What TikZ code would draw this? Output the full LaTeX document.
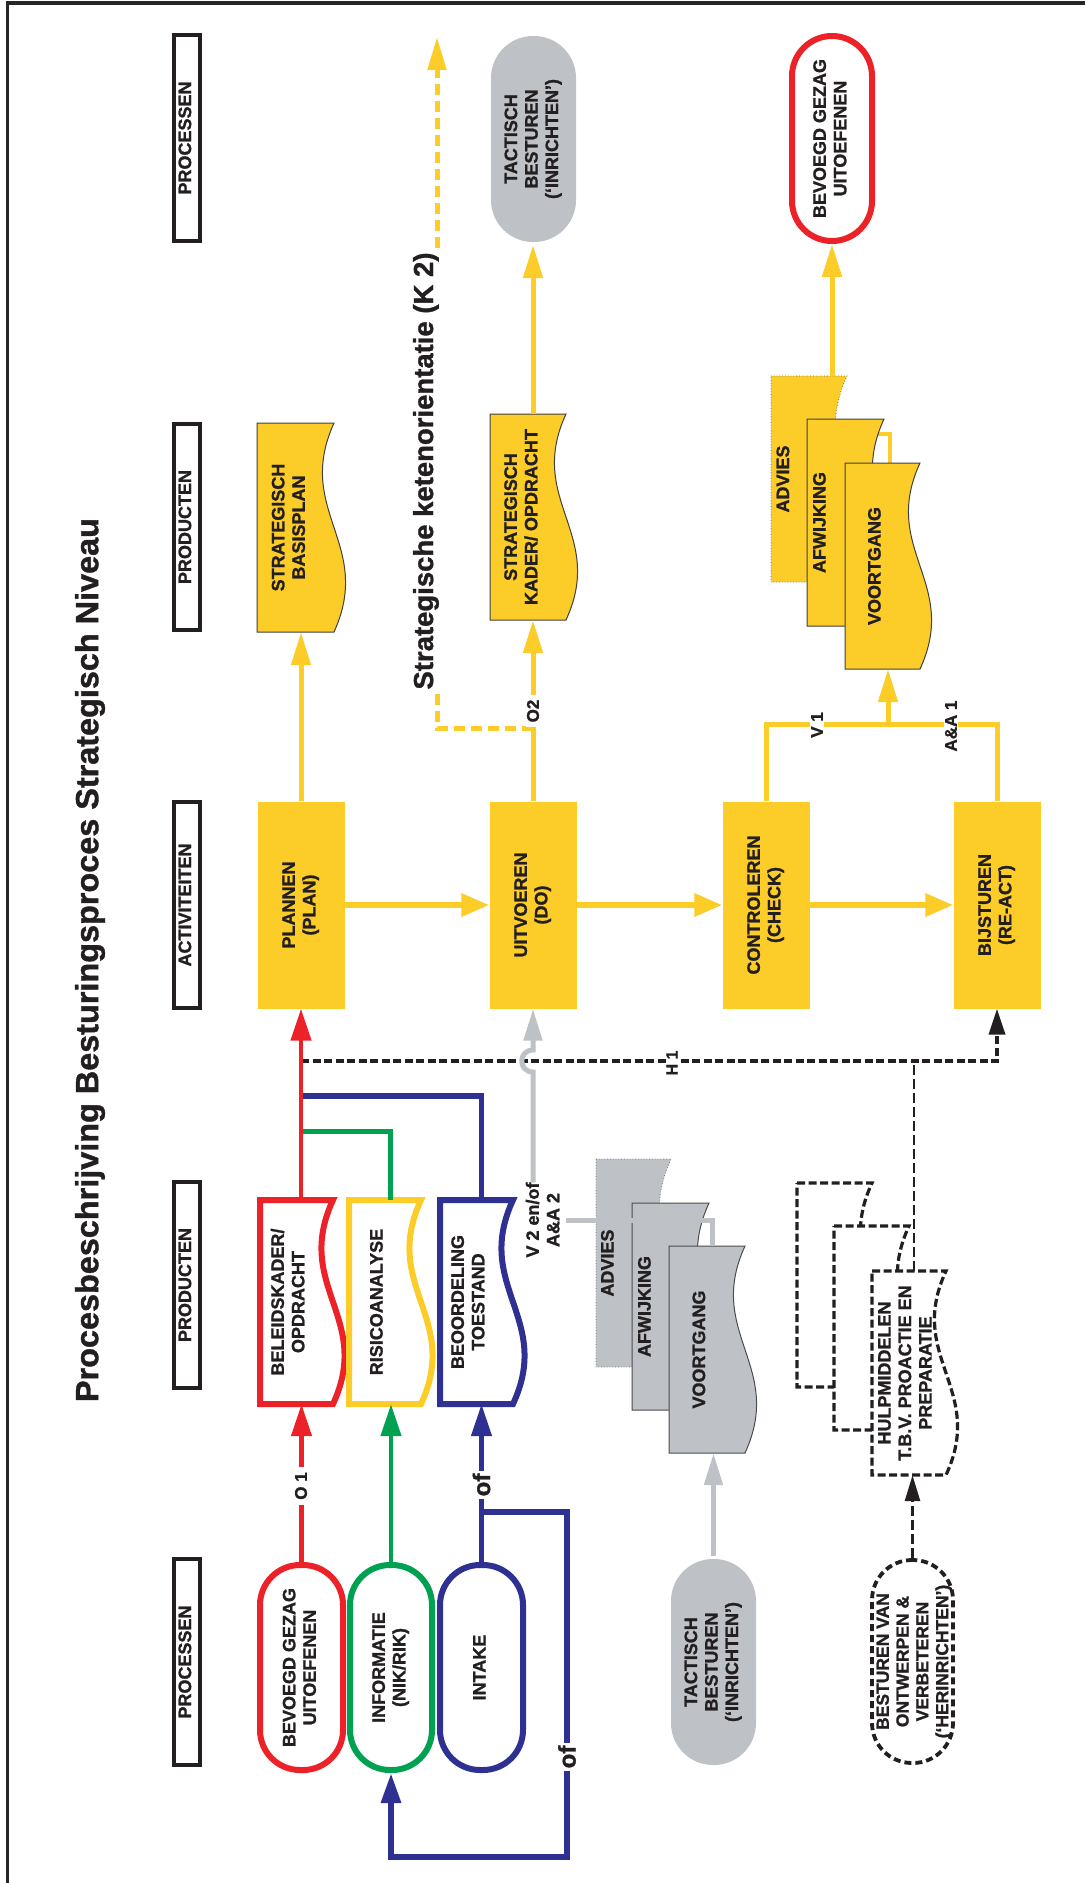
\documentclass[tikz,border=0pt]{standalone}
\usepackage{fontspec}
\setmainfont{Liberation Sans}[BoldFeatures={FakeBold=1.2}]
\usetikzlibrary{arrows.meta,calc}
\definecolor{ygold}{RGB}{252,204,41}
\definecolor{rred}{RGB}{236,34,40}
\definecolor{ggreen}{RGB}{0,161,80}
\definecolor{bblue}{RGB}{46,49,146}
\definecolor{ggray}{RGB}{190,194,199}
\definecolor{inkc}{RGB}{35,31,32}

% text set upright-rotated (reads bottom to top)
\newcommand\rtext[1]{\rotatebox{90}{\begin{tabular}{@{}c@{}}#1\end{tabular}}}

% document shape with a wavy right edge, an invisible named node over it, and its label
% #1 name, #2 style, #3 x0, #4 y0, #5 w, #6 h, #7 label shift, #8 label
\newcommand\docnode[8]{%
  \path[#2] (#3,#4) -- ({#3+#5},#4) .. controls +(-40,{0.42*#6}) and +(40,{-0.42*#6}) .. ({#3+#5},{#4+#6}) -- (#3,{#4+#6}) -- cycle;
  \node[inner sep=0pt, minimum width={#5+10}, minimum height=#6] (#1) at ({#3+(#5+10)/2},{#4+#6/2}) {};
  \node[lbl] at ({#3+(#5+10)/2+#7},{#4+#6/2}) {\rtext{#8}};}

\tikzset{
  lbl/.style={font=\fontsize{18pt}{20.5pt}\selectfont\bfseries, text=inkc, inner sep=0pt},
  smlbl/.style={font=\fontsize{17pt}{19pt}\selectfont\bfseries, text=inkc, fill=white, rotate=90, inner xsep=5pt, inner ysep=1pt},
  hdr/.style={lbl, draw=inkc, line width=4, minimum width=26, minimum height=206},
  act/.style={lbl, fill=ygold, minimum width=87, minimum height=207},
  proc/.style={lbl, rounded corners=40, line width=6, minimum width=82, minimum height=205},
  ydoc/.style={fill=ygold, draw=black!75, line width=1, line join=miter},
  ydocdot/.style={fill=ygold, draw=black!60, line width=0.8, dotted},
  gdoc/.style={fill=ggray, draw=black!70, line width=1, line join=miter},
  gdocdot/.style={fill=ggray, draw=black!55, line width=0.8, dotted},
  wdoc/.style={fill=white, line width=6, line join=miter},
  hdoc/.style={fill=white, draw=inkc, line width=3.2, dash pattern=on 8pt off 3.5pt, line join=miter},
  yline/.style={draw=ygold, line width=5, line join=miter},
  yarr/.style={yline, -{Triangle[length=33pt,width=19pt]}},
  yarrH/.style={draw=ygold, line width=6.5, -{Triangle[length=28pt,width=22pt]}},
  ydash/.style={draw=ygold, line width=5, dash pattern=on 11pt off 6pt},
  rarr/.style={draw=rred, line width=4.5, -{Triangle[length=32pt,width=20pt]}},
  garr/.style={draw=ggreen, line width=4.5, -{Triangle[length=32pt,width=20pt]}},
  barr/.style={draw=bblue, line width=4.5, -{Triangle[length=32pt,width=20pt]}},
  gln/.style={draw=ggreen, line width=5, line join=miter},
  bln/.style={draw=bblue, line width=5.5, line join=miter},
  gyline/.style={draw=ggray, line width=5, line join=miter},
  gyarr/.style={gyline, -{Triangle[length=32pt,width=18pt]}},
  hln/.style={draw=inkc, line width=3.8, dash pattern=on 8pt off 3.5pt, -{Triangle[length=26pt,width=16pt]}},
  hlink/.style={draw=inkc, line width=2.8, dash pattern=on 10pt off 4pt},
}

\begin{document}
\begin{tikzpicture}[x=1pt, y=-1pt]
\useasboundingbox (0,0) rectangle (1085,1883);
\fill[white] (0,0) rectangle (1085,1883);

% frame
\draw[line width=3.5, draw=black!85] (5.75,3) -- (1085,3);
\draw[line width=2.5, draw=black!85] (7.5,3) -- (7.5,1883);

% title
\node[font=\fontsize{32pt}{36pt}\selectfont\bfseries, text=inkc, inner sep=0pt] (title) at (90,960)
  {\rotatebox{90}{\resizebox{884pt}{\height}{Procesbeschrijving Besturingsproces Strategisch Niveau}}};

% column headers
\node[hdr] (h1) at (187,138) {\rtext{PROCESSEN}};
\node[hdr] (h2) at (187,527) {\rtext{PRODUCTEN}};
\node[hdr] (h3) at (187,905) {\rtext{ACTIVITEITEN}};
\node[hdr] (h4) at (187,1285) {\rtext{PRODUCTEN}};
\node[hdr] (h5) at (187,1662) {\rtext{PROCESSEN}};

% activities
\node[act] (plan)  at (301,905) {\rtext{PLANNEN\\(PLAN)}};
\node[act] (uit)   at (533,905) {\rtext{UITVOEREN\\(DO)}};
\node[act] (contr) at (766,905) {\rtext{CONTROLEREN\\(CHECK)}};
\node[act] (bijst) at (997,905) {\rtext{BIJSTUREN\\(RE-ACT)}};
\draw[yarrH] (plan) -- (uit);
\draw[yarrH] (uit) -- (contr);
\draw[yarrH] (contr) -- (bijst);

% processes, top row
\node[proc, draw=rred, fill=white, minimum width=80] (bev1) at (832,138.5) {\rtext{BEVOEGD GEZAG\\UITOEFENEN}};
\node[proc, fill=ggray, rounded corners=42, minimum width=85, minimum height=206] (tact1) at (533.5,139) {\rtext{TACTISCH\\BESTUREN\\(‘INRICHTEN’)}};

% processes, bottom row
\node[proc, draw=rred, fill=white, minimum width=83] (bev2) at (301.5,1667.5) {\rtext{BEVOEGD GEZAG\\UITOEFENEN}};
\node[proc, draw=ggreen, fill=white, minimum width=82] (info) at (391,1667.5) {\rtext{INFORMATIE\\(NIK/RIK)}};
\node[proc, draw=bblue, fill=white, minimum width=83] (intake) at (481.5,1667.5) {\rtext{INTAKE}};
\node[proc, fill=ggray, rounded corners=42, minimum width=85, minimum height=206] (gtact) at (713.5,1662) {\rtext{TACTISCH\\BESTUREN\\(‘INRICHTEN’)}};
\node[proc, draw=inkc, fill=white, line width=3.8, dash pattern=on 7pt off 4pt, minimum width=81, minimum height=203] (bvo) at (912.5,1661.5) {};
\node[lbl, font=\fontsize{17.5pt}{19.8pt}\selectfont\bfseries] at (914.5,1661.5) {\rtext{BESTUREN VAN\\ONTWERPEN \&\\VERBETEREN\\(‘HERINRICHTEN’)}};

% top products
\docnode{basis}{ydoc}{257}{423}{77}{209}{-10}{STRATEGISCH\\BASISPLAN}
\docnode{kader}{ydoc}{490}{414}{76}{206}{-10}{STRATEGISCH\\KADER/ OPDRACHT}

% link hidden behind the stack, visible at its right
\coordinate (ybr) at (832,434);
\draw[yline, line width=4] (ybr) -| (890,463);
\docnode{yadv}{ydocdot}{771}{376}{76}{206}{-29}{ADVIES}
\docnode{yafw}{ydoc}{807}{419}{77}{207}{-29}{AFWIJKING}
\docnode{yvoort}{ydoc}{845}{463}{75}{206}{-11}{VOORTGANG}

% lower products
\docnode{bel}{wdoc, draw=rred}{260}{1200}{73}{204}{-11.5}{BELEIDSKADER/\\OPDRACHT}
\docnode{risk}{wdoc, draw=ygold}{349}{1200}{72}{204}{-11.5}{RISICOANALYSE}
\docnode{beoor}{wdoc, draw=bblue}{440}{1200}{73}{204}{-11.5}{BEOORDELING\\TOESTAND}

\docnode{gadv}{gdocdot}{596}{1159}{75}{208}{-29}{ADVIES}
\docnode{gafw}{gdoc}{632}{1203}{77}{207}{-29}{AFWIJKING}
\docnode{gvoort}{gdoc}{669}{1246}{76}{207}{-11}{VOORTGANG}

\docnode{hulpa}{hdoc}{797}{1183}{75}{204}{0}{}
\docnode{hulpb}{hdoc}{834}{1226}{75}{204}{0}{}
\docnode{hulpc}{hdoc}{872}{1271}{74}{204}{-7}{HULPMIDDELEN\\T.B.V. PROACTIE EN\\PREPARATIE}

% upper connectors
\draw[yarr] (plan.north) -- (plan.north |- basis.south);
\draw[yarr] (uit.north) -- (uit.north |- kader.south);
\draw[yarr] (kader.north) -- (kader.north |- tact1.south);
\draw[yarr] (yadv.north -| bev1.south) -- (bev1.south);
\coordinate (fork) at (888,724);
\draw[yline] (contr.north) |- (fork) -| (bijst.north);
\draw[yarr] (fork) -- (fork |- yvoort.south);

% chain orientation (dashed)
\coordinate (k2a) at (533,728);
\coordinate (k2b) at (437,728);
\coordinate (k2c) at (437,694);
\coordinate (k2d) at (437,248);
\coordinate (k2e) at (437,37);
\draw[ydash] (k2a) -- (k2b) -- (k2c);
\draw[ydash, -{Triangle[length=33pt,width=18pt]}] (k2d) -- (k2e);
\node[font=\fontsize{27.5pt}{30pt}\selectfont\bfseries, text=inkc, rotate=90, inner sep=0pt] (k2) at (426,471) {Strategische ketenorientatie (K 2)};

% lower connectors
\coordinate (hj) at (301,1061);
\coordinate (bj) at (301,1096);
\coordinate (gj) at (301,1131);
\draw[hln] (hj) -| (bijst.south);
\draw[hlink] (hulpc.north) -- (hulpc.north |- hj);
\draw[hlink, -{Triangle[length=26pt,width=15pt]}] (bvo.north) -- (bvo.north |- hulpc.south);

\draw[bln] (bj) -| (beoor.north);
\draw[gln] (gj) -| (risk.north);
\draw[rarr] (plan.south |- bel.north) -- (plan.south);

\draw[rarr] (bev2.north) -- (bev2.north |- bel.south);
\draw[garr] (info.north) -- (info.north |- risk.south);
\draw[barr] (intake.north) -- (intake.north |- beoor.south);
\coordinate (lj) at (481.5,1512);
\coordinate (lc) at (567,1857);
\draw[bln, line width=6, -{Triangle[length=30pt,width=19pt]}] (lj) -| (lc) -| (info.south);

% grey feedback
\node[lbl] (v2) at (545,1220) {\rtext{V 2 en/of\\A\&A 2}};
\draw[gyarr] (gtact.north) -- (gtact.north |- gvoort.south);
\draw[gyarr] (uit.south |- v2.north) -- (533,1072) .. controls (518,1072) and (518,1050) .. (533,1050) -- (uit.south);
\draw[gyline] (v2.east) -| (gvoort.north);

% connector labels
\node[smlbl] at (533,711) {O2};
\node[smlbl] at (817,725) {V 1};
\node[smlbl] at (951,726) {A\&A 1};
\node[smlbl, font=\fontsize{16pt}{18pt}\selectfont\bfseries] at (672,1063) {H 1};
\node[smlbl] at (301,1486) {O 1};
\node[smlbl, font=\fontsize{24pt}{26pt}\selectfont\bfseries, inner xsep=3pt] at (481.5,1485) {of};
\node[smlbl, font=\fontsize{24pt}{26pt}\selectfont\bfseries, inner xsep=3pt] at (567,1757) {of};
\end{tikzpicture}
\end{document}
